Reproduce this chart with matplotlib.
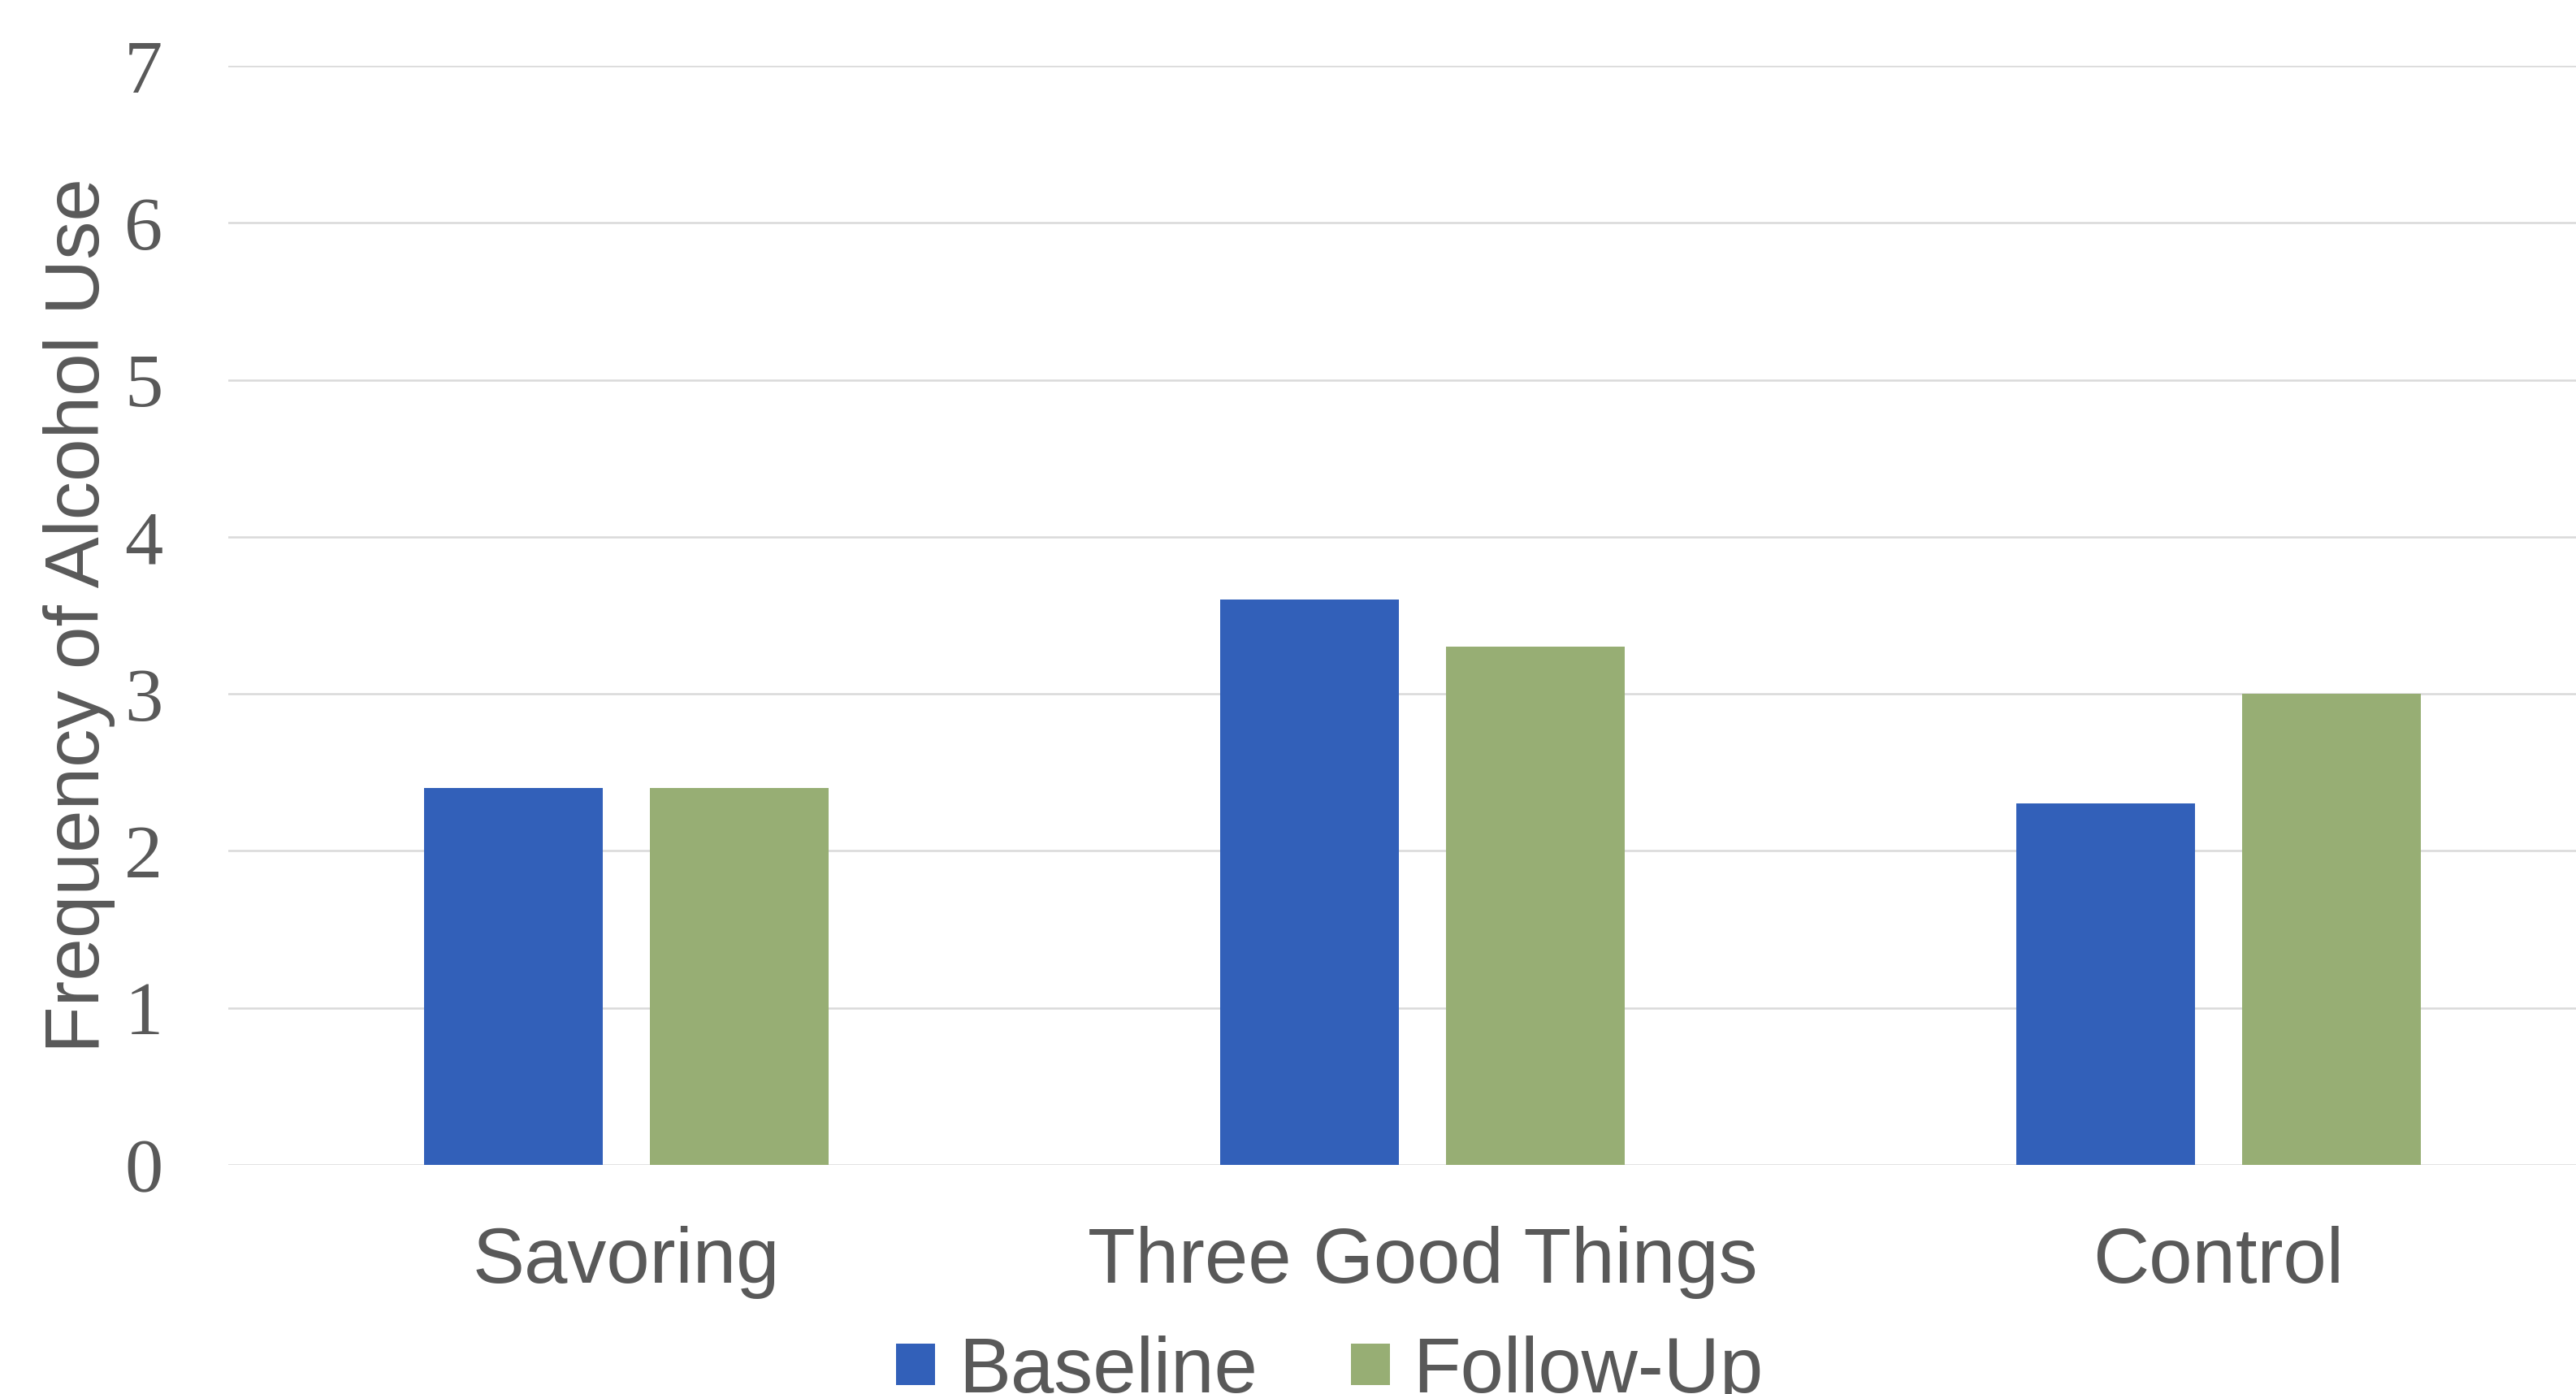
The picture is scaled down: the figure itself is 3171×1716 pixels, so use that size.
import matplotlib
matplotlib.use("Agg")
import matplotlib.pyplot as plt
import numpy as np

categories = ["Savoring", "Three Good Things", "Control"]
baseline = [2.4, 3.6, 2.3]
follow_up = [2.4, 3.3, 3.0]
series_names = ["Baseline", "Follow-Up"]
y_ticks = [0, 1, 2, 3, 4, 5, 6, 7]

blue = "#3260B9"
green = "#97AE74"
text_gray = "#595959"
grid_gray = "#D9D9D9"

fig = plt.figure(figsize=(31.71, 17.16), dpi=100)
# axes runs off the right edge, like the cropped original
ax = fig.add_axes([281 / 3171, 1 - 1434 / 1716, 2940 / 3171, 1353 / 1716])

x = np.arange(len(categories))
w = 0.2245
off = 0.1423
ax.bar(x - off, baseline, width=w, color=blue, label=series_names[0], zorder=3)
ax.bar(x + off, follow_up, width=w, color=green, label=series_names[1], zorder=3)

ax.set_xlim(-0.5, 2.5)
ax.set_ylim(0, 7)
ax.set_yticks(y_ticks)
ax.set_yticklabels([str(t) for t in y_ticks], family="Liberation Serif",
                   fontsize=68, color=text_gray)
ax.set_xticks(x)
ax.set_xticklabels(categories, family="Liberation Sans", fontsize=69, color=text_gray)
ax.tick_params(axis="y", length=0, pad=58)
ax.tick_params(axis="x", length=0, pad=54)

ax.grid(axis="y", color=grid_gray, linewidth=1.8, zorder=0)
for s in ax.spines.values():
    s.set_visible(False)

ax.set_ylabel("Frequency of Alcohol Use", family="Liberation Sans", fontsize=68,
              color=text_gray)
ax.yaxis.set_label_coords((142 - 281) / 2940, 0.5)

fig.legend(loc="center", bbox_to_anchor=(1637 / 3171, 0.016), ncol=2, frameon=False,
           prop={"family": "Liberation Sans", "size": 69}, labelcolor=text_gray,
           handlelength=0.5, handleheight=0.45, handletextpad=0.3, columnspacing=1.2,
           borderpad=0, borderaxespad=0)

fig.savefig("out.png", dpi=100, facecolor="white")
plt.close(fig)
